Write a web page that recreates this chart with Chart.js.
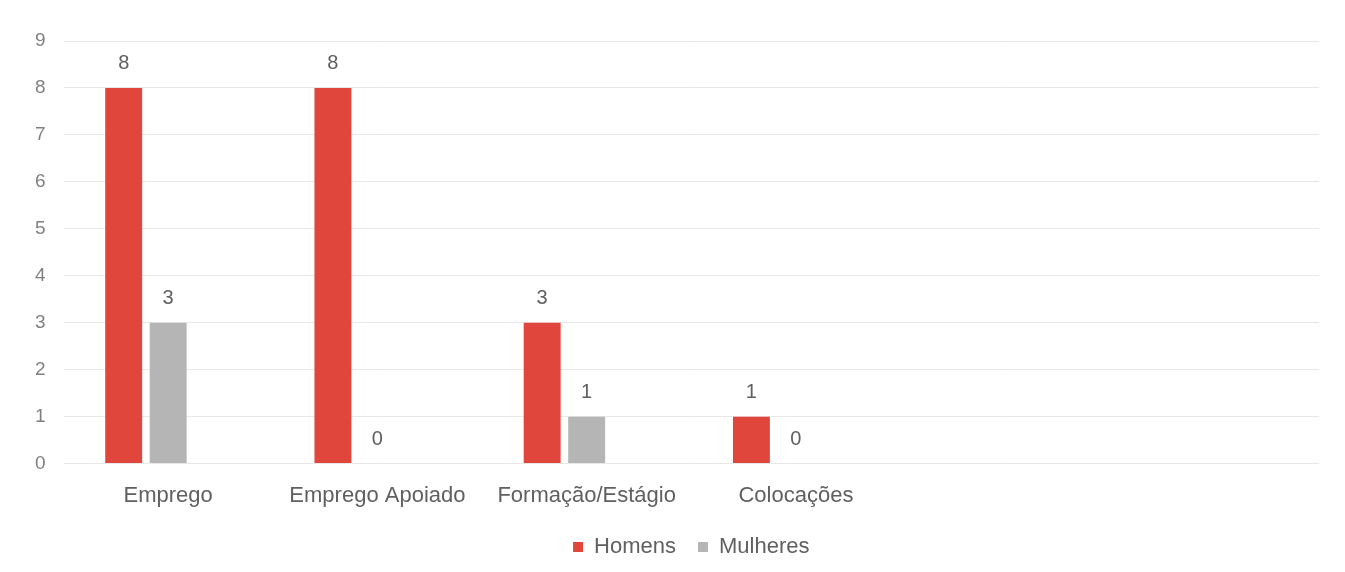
<!DOCTYPE html>
<html>
<head>
<meta charset="utf-8">
<script src="https://cdn.jsdelivr.net/npm/chart.js@4/dist/chart.umd.min.js"></script>
<style>
  html, body { margin: 0; padding: 0; background: #ffffff; }
  #wrap { width: 1345px; height: 572px; position: relative; }
</style>
</head>
<body>
<div id="wrap"><canvas id="c"></canvas></div>
<script>
const categories = ['Emprego', 'Emprego Apoiado', 'Formação/Estágio', 'Colocações', '', ''];
const homens = [8, 8, 3, 1, null, null];
const mulheres = [3, 0, 1, 0, null, null];
const vazio = [null, null, null, null, null, null];
const seriesNames = ['Homens', 'Mulheres', ''];
const yTicks = [0, 1, 2, 3, 4, 5, 6, 7, 8, 9];

const FONT = '"Liberation Sans", Arial, sans-serif';

const valueLabels = {
  id: 'valueLabels',
  afterDatasetsDraw(chart) {
    const ctx = chart.ctx;
    ctx.save();
    ctx.font = '20px ' + FONT;
    ctx.fillStyle = '#606060';
    ctx.textAlign = 'center';
    ctx.textBaseline = 'middle';
    chart.data.datasets.forEach((ds, di) => {
      const meta = chart.getDatasetMeta(di);
      meta.data.forEach((bar, i) => {
        const v = ds.data[i];
        if (v === null || v === undefined) return;
        ctx.fillText(String(v), bar.x, bar.y - 24);
      });
    });
    ctx.restore();
  }
};

const common = { categoryPercentage: 0.638, barPercentage: 0.83 };

new Chart(document.getElementById('c'), {
  type: 'bar',
  data: {
    labels: categories,
    datasets: [
      Object.assign({ label: seriesNames[0], data: homens, backgroundColor: '#e0463c' }, common),
      Object.assign({ label: seriesNames[1], data: mulheres, backgroundColor: '#b5b5b5' }, common),
      Object.assign({ label: seriesNames[2], data: vazio, backgroundColor: 'rgba(0,0,0,0)' }, common)
    ]
  },
  options: {
    responsive: true,
    maintainAspectRatio: false,
    animation: false,
    layout: { padding: { left: 17, right: 26, top: 41, bottom: 4 } },
    plugins: {
      legend: {
        position: 'bottom',
        fullSize: false,
        labels: {
          boxWidth: 10, boxHeight: 10, padding: 22,
          color: '#606060',
          font: { size: 22, family: FONT },
          filter: (item) => item.text !== ''
        }
      },
      tooltip: { enabled: false }
    },
    scales: {
      x: {
        grid: { display: false, drawTicks: false },
        border: { display: false },
        afterFit(scale) { scale.height -= 14; },
        ticks: { color: '#606060', padding: 19, font: { size: 22, family: FONT } }
      },
      y: {
        min: 0, max: 9,
        afterBuildTicks(scale) { scale.ticks = yTicks.map(v => ({ value: v })); },
        grid: { color: '#e8e8e8', drawTicks: false },
        border: { display: false },
        ticks: { color: '#808080', padding: 18, font: { size: 19, family: FONT } }
      }
    }
  },
  plugins: [valueLabels]
});
</script>
</body>
</html>
